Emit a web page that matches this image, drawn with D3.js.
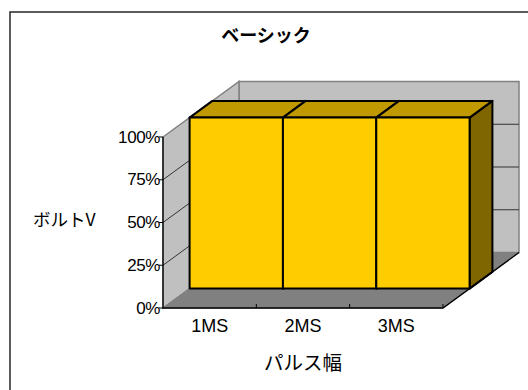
<!DOCTYPE html>
<html>
<head>
<meta charset="utf-8">
<script src="https://cdn.jsdelivr.net/npm/d3@7"></script>
<style>
  body { margin: 0; background: #fff; }
  text { font-family: "Liberation Sans", Arial, sans-serif; fill: #000; }
  .jp { font-family: "Noto Sans CJK JP", sans-serif; }
</style>
</head>
<body>
<div id="chart"></div>
<script>
// data
var categories = ["1MS", "2MS", "3MS"];
var values = [100, 100, 100];
var yTicks = [0, 25, 50, 75, 100];
var chartTitle = "ベーシック";
var yTitle = "ボルトV";
var xTitle = "パルス幅";

var width = 528, height = 390;

var svg = d3.select("#chart").append("svg")
    .attr("width", width)
    .attr("height", height);

// outer chart border (right and bottom run off the page)
svg.append("rect")
    .attr("x", 10).attr("y", 12)
    .attr("width", 530).attr("height", 400)
    .attr("fill", "none")
    .attr("stroke", "#333")
    .attr("stroke-width", 1.6);

// front plane scales
var x = d3.scaleBand().domain(categories).range([163, 443]).padding(0);
var y = d3.scaleLinear().domain([0, 100]).range([308, 137]);

// depth projection (0 = front, 1 = back wall)
var dX = d3.scaleLinear().domain([0, 1]).range([0, 76]);
var dY = d3.scaleLinear().domain([0, 1]).range([0, -55.5]);
function P(px, py, t) { return [px + dX(t), py + dY(t)]; }
var line = d3.line();

var x0 = x.range()[0], x1 = x.range()[1];
var yb = y(0), yt = y(100);

// back wall
svg.append("path")
    .attr("d", line([P(x0, yt, 1), P(x1, yt, 1), P(x1, yb, 1), P(x0, yb, 1)]) + "Z")
    .attr("fill", "#c0c0c0").attr("stroke", "#808080").attr("stroke-width", 1.5);

// side wall
svg.append("path")
    .attr("d", line([P(x0, yt, 0), P(x0, yt, 1), P(x0, yb, 1), P(x0, yb, 0)]) + "Z")
    .attr("fill", "#c0c0c0").attr("stroke", "#808080").attr("stroke-width", 1.5);

// floor
svg.append("path")
    .attr("d", line([P(x0, yb, 0), P(x1, yb, 0), P(x1, yb, 1), P(x0, yb, 1)]) + "Z")
    .attr("fill", "#808080").attr("stroke", "#808080").attr("stroke-width", 1);

// gridlines on walls
var grid = yTicks.filter(function(d) { return d > 0 && d < 100; });
svg.append("g").selectAll("path")
    .data(grid)
    .enter().append("path")
    .attr("d", function(d) {
      return line([P(x0, y(d), 0), P(x0, y(d), 1), P(x1, y(d), 1)]);
    })
    .attr("fill", "none")
    .attr("stroke", "#333")
    .attr("stroke-width", 1);

// bars
var t0 = 0.35, t1 = 0.65;
var bars = svg.append("g").selectAll("g")
    .data(values)
    .enter().append("g");

bars.append("path") // side
    .attr("d", function(d, i) {
      var r = x(categories[i]) + x.bandwidth();
      return line([P(r, y(d), t0), P(r, y(d), t1), P(r, y(0), t1), P(r, y(0), t0)]) + "Z";
    })
    .attr("fill", "#806600").attr("stroke", "#000").attr("stroke-width", 2)
    .attr("stroke-linejoin", "round");

bars.append("path") // top
    .attr("d", function(d, i) {
      var l = x(categories[i]), r = l + x.bandwidth();
      return line([P(l, y(d), t0), P(l, y(d), t1), P(r, y(d), t1), P(r, y(d), t0)]) + "Z";
    })
    .attr("fill", "#c09900").attr("stroke", "#000").attr("stroke-width", 2)
    .attr("stroke-linejoin", "round");

bars.append("path") // front
    .attr("d", function(d, i) {
      var l = x(categories[i]), r = l + x.bandwidth();
      return line([P(l, y(d), t0), P(r, y(d), t0), P(r, y(0), t0), P(l, y(0), t0)]) + "Z";
    })
    .attr("fill", "#ffcc00").attr("stroke", "#000").attr("stroke-width", 2)
    .attr("stroke-linejoin", "round");

// axes lines
svg.append("path")
    .attr("d", line([[x0, yt], [x0, yb], [x1, yb], P(x1, yb, 1)]))
    .attr("fill", "none").attr("stroke", "#000").attr("stroke-width", 1.3);

// y ticks + labels
svg.append("g").selectAll("line")
    .data(yTicks)
    .enter().append("line")
    .attr("x1", x0 - 4).attr("x2", x0)
    .attr("y1", function(d) { return y(d); })
    .attr("y2", function(d) { return y(d); })
    .attr("stroke", "#000");

svg.append("g").selectAll("text")
    .data(yTicks)
    .enter().append("text")
    .attr("x", x0 - 3)
    .attr("y", function(d) { return y(d); })
    .attr("text-anchor", "end")
    .attr("dominant-baseline", "central")
    .attr("font-size", 17)
    .attr("letter-spacing", -0.4)
    .text(function(d) { return d + "%"; });

// x ticks (inside) + labels
svg.append("g").selectAll("line")
    .data(categories)
    .enter().append("line")
    .attr("x1", function(d) { return x(d) + x.bandwidth(); })
    .attr("x2", function(d) { return x(d) + x.bandwidth(); })
    .attr("y1", yb - 4).attr("y2", yb)
    .attr("stroke", "#000");

svg.append("g").selectAll("text")
    .data(categories)
    .enter().append("text")
    .attr("x", function(d) { return x(d) + x.bandwidth() / 2; })
    .attr("y", 326)
    .attr("text-anchor", "middle")
    .attr("dominant-baseline", "central")
    .attr("font-size", 18)
    .text(function(d) { return d; });

// titles
svg.append("text")
    .attr("class", "jp")
    .attr("x", 266).attr("y", 34)
    .attr("text-anchor", "middle")
    .attr("dominant-baseline", "central")
    .attr("font-size", 18)
    .attr("font-weight", "bold")
    .text(chartTitle);

svg.append("text")
    .attr("class", "jp")
    .attr("x", 33).attr("y", 218)
    .attr("dominant-baseline", "central")
    .attr("font-size", 17.5)
    .text(yTitle);

svg.append("text")
    .attr("class", "jp")
    .attr("x", 303).attr("y", 361)
    .attr("text-anchor", "middle")
    .attr("dominant-baseline", "central")
    .attr("font-size", 19.5)
    .text(xTitle);
</script>
</body>
</html>
